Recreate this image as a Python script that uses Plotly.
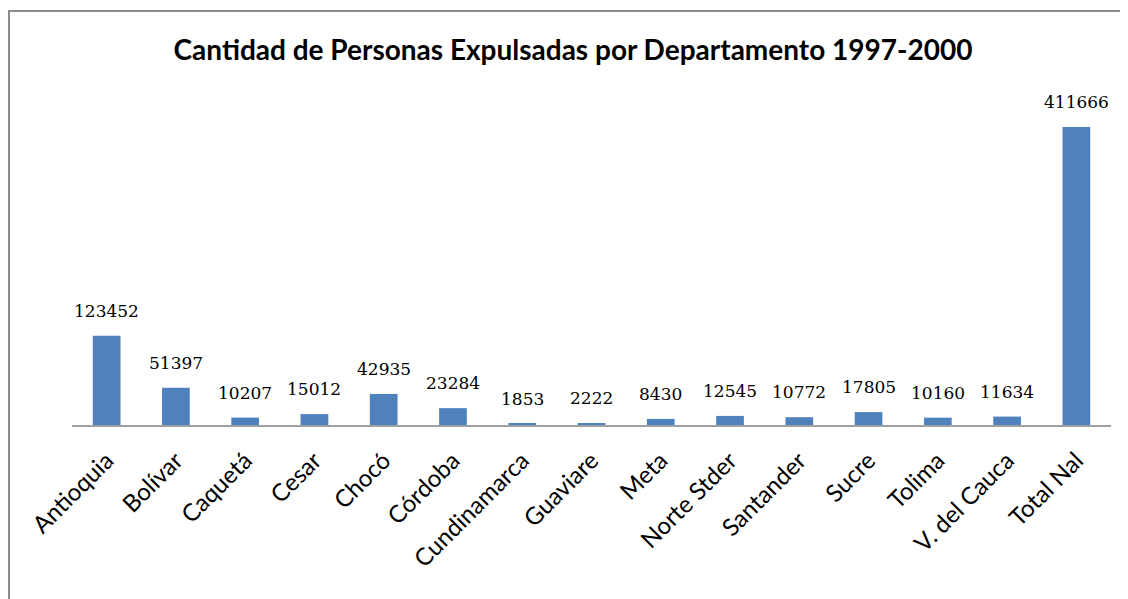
import plotly.graph_objects as go

departamentos = ["Antioquia", "Bolívar", "Caquetá", "Cesar", "Chocó", "Córdoba",
                 "Cundinamarca", "Guaviare", "Meta", "Norte Stder", "Santander",
                 "Sucre", "Tolima", "V. del Cauca", "Total Nal"]
personas = [123452, 51397, 10207, 15012, 42935, 23284, 1853, 2222, 8430,
            12545, 10772, 17805, 10160, 11634, 411666]

OFF = 8  # page body margin
W, H = 1128 - OFF, 599 - OFF
L, R, T, B = 72 - OFF, 1111 - OFF, 60 - OFF, 425 - OFF
pw, ph = R - L, B - T

def px_x(x):
    return (x - OFF - L) / pw

def px_y(y):
    return (B - (y - OFF)) / ph

fig = go.Figure(go.Bar(
    x=departamentos,
    y=personas,
    marker=dict(color="#4F81BD", line=dict(width=0)),
    width=0.4,
    hoverinfo="x+y",
))

annotations = [dict(x=d, y=v, xref="x", yref="y", text=str(v), showarrow=False,
                    xanchor="center", yanchor="bottom", yshift=13,
                    font=dict(family="DejaVu Serif", size=17, color="#000000"))
               for d, v in zip(departamentos, personas)]

fig.update_layout(
    width=W, height=H,
    margin=dict(l=L, r=W - R, t=T, b=H - B),
    paper_bgcolor="white",
    plot_bgcolor="white",
    showlegend=False,
    title=dict(text="<b>Cantidad de Personas Expulsadas por Departamento 1997-2000</b>",
               x=(573 - OFF) / W, xanchor="center", y=1 - (50 - OFF) / H, yanchor="middle",
               font=dict(family="Lato", size=28, color="#000000")),
    xaxis=dict(showline=True, linecolor="#A0A0A0", linewidth=2, ticks="",
               tickangle=-45, tickfont=dict(family="Lato", size=24, color="#000000"),
               ticklabelstandoff=10,
               showgrid=False, zeroline=False, fixedrange=True),
    yaxis=dict(visible=False, range=[0, 411666 * ph / 298], showgrid=False,
               zeroline=False, fixedrange=True),
    annotations=annotations,
    shapes=[dict(type="path", xref="paper", yref="paper",
                 path=f"M {px_x(9)} {px_y(H + 20)} L {px_x(9)} {px_y(11)} L {px_x(W + 20)} {px_y(11)}",
                 line=dict(color="#8C8C8C", width=2))],
)

fig.write_html("out.html")
